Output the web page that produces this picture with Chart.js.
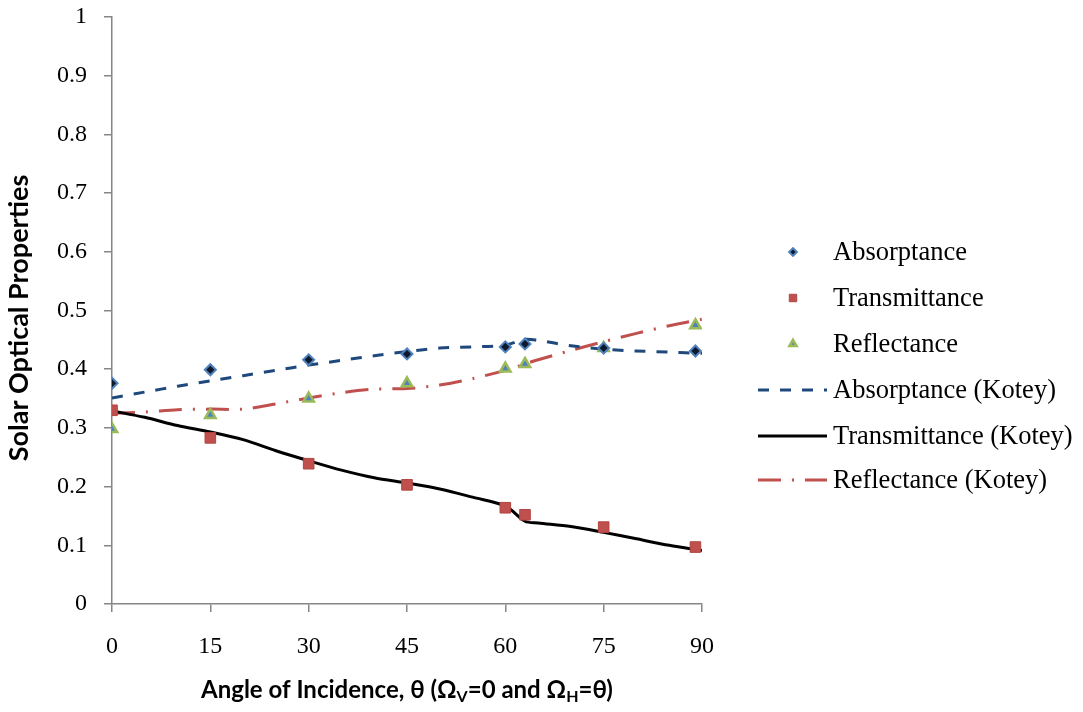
<!DOCTYPE html>
<html>
<head>
<meta charset="utf-8">
<title>Solar Optical Properties vs Angle of Incidence</title>
<script src="https://cdn.jsdelivr.net/npm/chart.js@4.4.1/dist/chart.umd.min.js"></script>
<style>
  html, body { margin: 0; padding: 0; background: #fff; }
  canvas { display: block; }
</style>
</head>
<body>
<canvas id="chart" width="1083" height="712"></canvas>
<script>
// measured values
const measuredAngles = [0, 15, 30, 45, 60, 63, 75, 89];
const absorptance = [0.376, 0.399, 0.416, 0.426, 0.438, 0.443, 0.436, 0.431];
const transmittance = [0.330, 0.283, 0.239, 0.203, 0.164, 0.152, 0.131, 0.097];
const reflectance = [0.298, 0.322, 0.350, 0.376, 0.401, 0.409, 0.436, 0.475];

// Kotey model curves
const koteyAngles = [0, 5, 10, 15, 20, 25, 30, 35, 40, 45, 50, 55, 60, 63, 65, 70, 75, 80, 85, 90];
const absorptanceKotey = [0.351, 0.361, 0.371, 0.380, 0.389, 0.398, 0.407, 0.415, 0.423, 0.430,
  0.436, 0.438, 0.441, 0.451, 0.449, 0.440, 0.434, 0.431, 0.429, 0.427];
const transmittanceKotey = [0.329, 0.318, 0.304, 0.293, 0.280, 0.261, 0.244, 0.228, 0.215, 0.206,
  0.196, 0.182, 0.167, 0.141, 0.138, 0.132, 0.122, 0.111, 0.100, 0.091];
const reflectanceKotey = [0.325, 0.327, 0.331, 0.332, 0.332, 0.341, 0.351, 0.360, 0.366, 0.367,
  0.373, 0.384, 0.398, 0.409, 0.416, 0.432, 0.447, 0.461, 0.474, 0.485];

const xTicks = [0, 15, 30, 45, 60, 75, 90];

const toPoints = (xs, ys) => xs.map((x, i) => ({ x: x, y: ys[i] }));

const AXIS_GREY = '#868686';
const SERIF = '"Liberation Serif", "Times New Roman", serif';
const SANS = 'Lato, "Open Sans", sans-serif';

// legend on the right, drawn by hand so marker-only and line-only entries look right
const sideLegend = {
  id: 'sideLegend',
  afterDraw(chart) {
    const ctx = chart.ctx;
    const rowY = [252, 298, 344, 390, 436, 480];
    const textX = 833;
    ctx.save();
    ctx.font = '26.5px ' + SERIF;
    ctx.textBaseline = 'middle';
    ctx.fillStyle = '#000';
    chart.data.datasets.forEach((ds, i) => {
      const y = rowY[i];
      if (ds.showLine) {
        ctx.save();
        ctx.strokeStyle = ds.borderColor;
        ctx.lineWidth = ds.borderWidth;
        ctx.setLineDash(ds.borderDash || []);
        ctx.beginPath();
        ctx.moveTo(758, y);
        ctx.lineTo(827, y);
        ctx.stroke();
        ctx.restore();
      } else {
        ctx.save();
        ctx.fillStyle = ds.backgroundColor;
        ctx.strokeStyle = ds.borderColor;
        ctx.lineWidth = ds.borderWidth;
        Chart.helpers.drawPoint(ctx, {
          pointStyle: ds.pointStyle,
          radius: ds.pointRadius * 0.7,
          rotation: 0,
          borderWidth: ds.borderWidth
        }, 793, y);
        ctx.restore();
      }
      ctx.fillText(ds.label, textX, y + 1);
    });
    ctx.restore();
  }
};

// axis titles (the x title carries subscripts)
const axisTitles = {
  id: 'axisTitles',
  afterDraw(chart) {
    const ctx = chart.ctx;
    const area = chart.chartArea;
    ctx.save();
    ctx.fillStyle = '#000';
    ctx.textBaseline = 'middle';

    ctx.save();
    ctx.font = 'bold 27px ' + SANS;
    ctx.translate(19, 318);
    ctx.rotate(-Math.PI / 2);
    ctx.textAlign = 'center';
    ctx.fillText('Solar Optical Properties', 0, 0);
    ctx.restore();

    const parts = [
      ['Angle of Incidence, θ (Ω', false],
      ['V', true],
      ['=0 and Ω', false],
      ['H', true],
      ['=θ)', false]
    ];
    const mainFont = 'bold 24px ' + SANS;
    const subFont = 'bold 16px ' + SANS;
    let total = 0;
    parts.forEach(([t, sub]) => {
      ctx.font = sub ? subFont : mainFont;
      total += ctx.measureText(t).width;
    });
    let x = (area.left + area.right) / 2 - total / 2;
    const y = 690;
    ctx.textAlign = 'left';
    parts.forEach(([t, sub]) => {
      ctx.font = sub ? subFont : mainFont;
      ctx.fillText(t, x, sub ? y + 7 : y);
      x += ctx.measureText(t).width;
    });
    ctx.restore();
  }
};

// fixed axis box sizes, no extra label padding around the plot area
const fixBox = (size) => (scale) => {
  if (scale.isHorizontal()) scale.height = size; else scale.width = size;
  scale.paddingTop = 0;
  scale.paddingBottom = 0;
  scale.paddingLeft = 0;
  scale.paddingRight = 0;
};

new Chart(document.getElementById('chart'), {
  type: 'scatter',
  data: {
    datasets: [
      {
        label: 'Absorptance',
        data: toPoints(measuredAngles, absorptance),
        showLine: false,
        pointStyle: 'rectRot',
        pointRadius: 5.5,
        backgroundColor: '#0e1a2c',
        borderColor: '#4F81BD',
        borderWidth: 2
      },
      {
        label: 'Transmittance',
        data: toPoints(measuredAngles, transmittance),
        showLine: false,
        pointStyle: 'rect',
        pointRadius: 7.5,
        backgroundColor: '#C0504D',
        borderColor: '#B24541',
        borderWidth: 1
      },
      {
        label: 'Reflectance',
        data: toPoints(measuredAngles, reflectance),
        showLine: false,
        pointStyle: 'triangle',
        pointRadius: 6,
        backgroundColor: '#4F81BD',
        borderColor: '#9BBB59',
        borderWidth: 2.5
      },
      {
        label: 'Absorptance (Kotey)',
        data: toPoints(koteyAngles, absorptanceKotey),
        showLine: true,
        pointRadius: 0,
        borderColor: '#1F497D',
        borderWidth: 3,
        borderDash: [11, 11],
        tension: 0.3
      },
      {
        label: 'Transmittance (Kotey)',
        data: toPoints(koteyAngles, transmittanceKotey),
        showLine: true,
        pointRadius: 0,
        borderColor: '#000000',
        borderWidth: 3,
        tension: 0.3
      },
      {
        label: 'Reflectance (Kotey)',
        data: toPoints(koteyAngles, reflectanceKotey),
        showLine: true,
        pointRadius: 0,
        borderColor: '#C0504D',
        borderWidth: 3,
        borderDash: [23, 11, 2, 11],
        tension: 0.3
      }
    ]
  },
  options: {
    responsive: false,
    animation: false,
    layout: { padding: { left: 0, top: 17, right: 381, bottom: 0 } },
    plugins: {
      legend: { display: false },
      tooltip: { enabled: false }
    },
    scales: {
      x: {
        type: 'linear',
        min: 0,
        max: 90,
        afterBuildTicks: (scale) => { scale.ticks = xTicks.map(v => ({ value: v })); },
        afterFit: fixBox(108),
        border: { color: AXIS_GREY, width: 1.5 },
        grid: { drawOnChartArea: false, drawTicks: true, tickLength: 8, color: AXIS_GREY, lineWidth: 1.5 },
        ticks: { color: '#000', font: { family: SERIF, size: 24 }, padding: 20, maxRotation: 0 }
      },
      y: {
        min: 0,
        max: 1,
        afterFit: fixBox(112),
        border: { color: AXIS_GREY, width: 1.5 },
        grid: { drawOnChartArea: false, drawTicks: true, tickLength: 8, color: AXIS_GREY, lineWidth: 1.5 },
        ticks: { stepSize: 0.1, color: '#000', font: { family: SERIF, size: 24 }, padding: 17,
          callback: (v) => Math.round(v * 10) / 10 }
      }
    }
  },
  plugins: [sideLegend, axisTitles]
});
</script>
</body>
</html>
